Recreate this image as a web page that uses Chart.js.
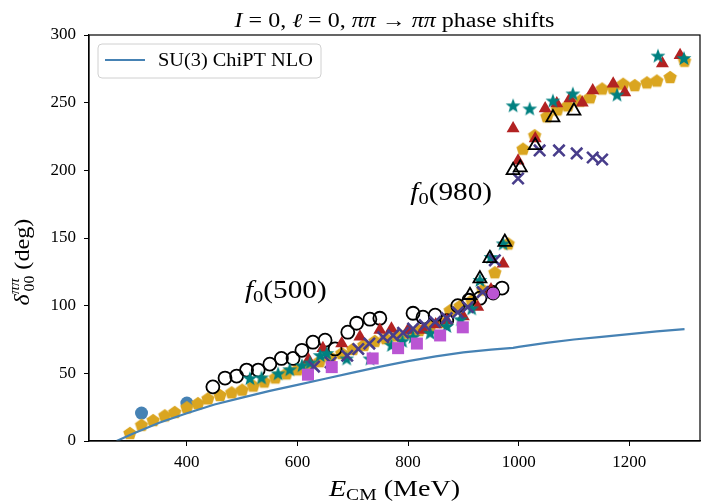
<!DOCTYPE html>
<html>
<head>
<meta charset="utf-8">
<script src="https://cdn.jsdelivr.net/npm/chart.js@4.4.1/dist/chart.umd.min.js"></script>
<style>
  html, body { margin: 0; padding: 0; background: #fff; }
  canvas { display: block; }
</style>
</head>
<body>
<canvas id="chart" width="711" height="502"></canvas>
<script>
const SERIF = '"Liberation Serif", "DejaVu Serif", serif'

const X_MIN = 223
const X_MAX = 1328
const xTickValues = [400, 600, 800, 1000, 1200]
const yTickValues = [0, 50, 100, 150, 200, 250, 300]

// SU(3) ChiPT NLO curve
const nloE = [273, 300, 350, 400, 450, 500, 550, 600, 650, 700, 750, 800, 850, 900, 950, 990, 1000, 1050, 1100, 1150, 1200, 1250, 1300]
const nloDelta = [0, 5, 13.5, 20.5, 27, 32, 37, 41.5, 46, 50.5, 55, 59, 62.5, 65.5, 67.5, 68.8, 69.5, 72.5, 75, 77, 79, 81, 82.6]

// data sets
const blueE = [318, 400]
const blueDelta = [20.6, 28]

const goldE = [297, 318, 339, 360, 378, 400, 420, 438, 460, 481, 500, 520, 540, 560, 580, 600, 620, 640, 660, 680, 700, 720, 740, 760, 780, 800, 820, 840, 860, 876, 894, 915, 935, 957, 981,
  1008, 1029, 1051, 1070, 1089, 1111, 1129, 1151, 1171, 1189, 1210, 1232, 1250, 1274, 1300]
const goldDelta = [6, 12, 15.5, 19, 21.5, 25, 28, 31.5, 34, 36, 38, 41, 44, 47, 50, 53, 56, 59, 62, 65, 68, 71, 74, 76, 78, 80, 82, 85, 88, 96.7, 100, 104, 112, 124.7, 146,
  216, 226, 240, 245, 248, 251.6, 254, 260.5, 261, 264, 263, 265, 266.4, 269, 281]

const openCircE = [447, 469, 490, 508, 529, 550, 571, 592, 608, 628, 650, 668, 691, 707, 731, 749, 809, 827, 849, 870, 890, 910, 930, 952, 970]
const openCircDelta = [40, 46.5, 48, 52.4, 52.4, 56.8, 61, 61, 67, 73, 74.5, 68, 80.4, 87, 90, 90.7, 94.4, 91.5, 93, 89, 100, 104, 105.5, 110, 113]

const redE = [620, 646, 680, 713, 749, 770, 800, 827, 850, 870, 900, 926, 950, 972,
  990, 999, 1030, 1048, 1069, 1093, 1115, 1134, 1171, 1192, 1260, 1292]
const redDelta = [60, 68.6, 72, 77, 82, 83, 82, 82, 86, 89, 92, 99, 112, 131,
  231, 207, 223.6, 245.7, 249.4, 253, 250, 259, 264, 257.5, 279, 285]

const tealE = [514, 535, 565, 586, 608, 623, 641, 653, 689, 731, 770, 790, 809, 840, 870, 895, 915, 930, 950, 972,
  990, 1020, 1062, 1098, 1178, 1252, 1299]
const tealDelta = [46.5, 47, 50, 53, 56, 58, 63.5, 65, 61, 61, 71, 74, 77, 80, 85, 90, 98, 119, 136, 146,
  248, 245.7, 251.6, 256.8, 256, 284.8, 283]

const crossE = [630, 660, 690, 710, 730, 755, 773, 791, 809, 830, 849, 870, 890, 908, 935, 957,
  999, 1038, 1073, 1105, 1134, 1151]
const crossDelta = [55, 58, 63, 68, 72, 76.7, 78, 80, 83, 85.6, 88, 90.8, 95, 99, 110, 133.5,
  194, 214.7, 214.7, 212.5, 209.5, 208]

const squareE = [619, 662, 736, 782, 816, 858, 899]
const squareDelta = [49, 54.6, 61, 68.6, 72, 78, 84]

const openTriE = [912, 930, 948, 975, 990, 1003, 1030, 1062, 1100]
const openTriDelta = [107.7, 120, 135, 147, 200, 202, 218.4, 239, 244]

const orchidCircE = [954]
const orchidCircDelta = [109]

const pts = (xs, ys) => xs.map((x, i) => ({ x, y: ys[i] }))

function makeStar (color, r) {
  const c = document.createElement('canvas')
  const s = Math.ceil(r * 2 + 2)
  c.width = s; c.height = s
  const g = c.getContext('2d')
  g.fillStyle = color
  g.beginPath()
  for (let i = 0; i < 10; i++) {
    const rad = i % 2 === 0 ? r : r * 0.42
    const a = -Math.PI / 2 + i * Math.PI / 5
    const px = s / 2 + rad * Math.cos(a)
    const py = s / 2 + rad * Math.sin(a) + r * 0.1
    if (i === 0) g.moveTo(px, py); else g.lineTo(px, py)
  }
  g.closePath()
  g.fill()
  return c
}

function makePentagon (color, r) {
  const c = document.createElement('canvas')
  const s = Math.ceil(r * 2 + 2)
  c.width = s; c.height = s
  const g = c.getContext('2d')
  g.fillStyle = color
  g.beginPath()
  for (let i = 0; i < 5; i++) {
    const a = -Math.PI / 2 + i * 2 * Math.PI / 5
    const px = s / 2 + r * Math.cos(a)
    const py = s / 2 + r * Math.sin(a) + r * 0.1
    if (i === 0) g.moveTo(px, py); else g.lineTo(px, py)
  }
  g.closePath()
  g.fill()
  return c
}

// draw a list of text runs centred on x; each run may be italic, smaller, shifted.
// sx stretches the text sideways a bit, LaTeX fonts are wider than Liberation Serif
function drawRuns (ctx, runs, x, y, baseSize, sx = 1) {
  const fontOf = r => `${r.it ? 'italic ' : ''}${(r.scale || 1) * baseSize}px ${SERIF}`
  let total = 0
  runs.forEach(r => { ctx.font = fontOf(r); r.w = ctx.measureText(r.t).width * sx; total += r.w + (r.gap || 0) })
  let cx = x - total / 2
  ctx.textBaseline = 'alphabetic'
  ctx.textAlign = 'left'
  runs.forEach(r => {
    ctx.font = fontOf(r)
    ctx.save()
    ctx.translate(cx, y + (r.dy || 0))
    ctx.scale(sx, 1)
    ctx.fillText(r.t, 0, 0)
    ctx.restore()
    cx += r.w + (r.gap || 0)
  })
}

const decorations = {
  id: 'decorations',
  afterDatasetsDraw (chart) {
    const { ctx, chartArea: a } = chart
    ctx.save()
    ctx.strokeStyle = '#000'
    ctx.lineWidth = 1.2
    ctx.strokeRect(a.left, a.top, a.right - a.left, a.bottom - a.top)
    ctx.fillStyle = '#000'

    const cx = (a.left + a.right) / 2
    drawRuns(ctx, [
      { t: 'I', it: true }, { t: ' = 0, ' }, { t: 'ℓ', it: true }, { t: ' = 0, ' },
      { t: 'ππ', it: true }, { t: ' → ' }, { t: 'ππ', it: true }, { t: ' phase shifts' }
    ], cx, 27, 20, 1.2)

    drawRuns(ctx, [
      { t: 'E', it: true }, { t: 'CM', scale: 0.7, dy: 4 }, { t: ' (MeV)' }
    ], cx, 496, 24, 1.17)

    ctx.save()
    ctx.translate(29, 262)
    ctx.rotate(-Math.PI / 2)
    drawRuns(ctx, [
      { t: 'δ', it: true }, { t: 'ππ', it: true, scale: 0.65, dy: -10, gap: -13 }, { t: '00', scale: 0.65, dy: 5 }, { t: ' (deg)' }
    ], 0, 0, 22, 1.1)
    ctx.restore()

    const sx = chart.scales.x
    const sy = chart.scales.y
    drawRuns(ctx, [{ t: 'f', it: true }, { t: '0', scale: 0.7, dy: 4 }, { t: '(500)' }],
      sx.getPixelForValue(579), sy.getPixelForValue(106), 25, 1.17)
    drawRuns(ctx, [{ t: 'f', it: true }, { t: '0', scale: 0.7, dy: 4 }, { t: '(980)' }],
      sx.getPixelForValue(878), sy.getPixelForValue(178), 25, 1.17)

    // legend
    const lx = 98, ly = 44, lw = 223, lh = 34
    ctx.beginPath()
    ctx.roundRect(lx, ly, lw, lh, 4)
    ctx.fillStyle = 'rgba(255,255,255,0.85)'
    ctx.fill()
    ctx.strokeStyle = '#d0d0d0'
    ctx.lineWidth = 1
    ctx.stroke()
    ctx.beginPath()
    ctx.moveTo(105, 60)
    ctx.lineTo(145, 60)
    ctx.strokeStyle = '#4682B4'
    ctx.lineWidth = 2
    ctx.stroke()
    ctx.fillStyle = '#000'
    ctx.font = `18px ${SERIF}`
    ctx.textAlign = 'left'
    ctx.textBaseline = 'alphabetic'
    ctx.save()
    ctx.translate(158, 66)
    ctx.scale(1.13, 1)
    ctx.fillText('SU(3) ChiPT NLO', 0, 0)
    ctx.restore()
    ctx.restore()
  }
}

const star = makeStar('#008080', 7.8)
const pent = makePentagon('#DAA520', 7)

const scatter = (label, xs, ys, extra) => Object.assign({
  label, data: pts(xs, ys), borderWidth: 0, pointHoverRadius: 0
}, extra)

const datasets = [
  { label: 'SU(3) ChiPT NLO', type: 'scatter', showLine: true, data: pts(nloE, nloDelta), borderColor: '#4682B4', borderWidth: 2.2, pointRadius: 0, order: 0 },
  scatter('blue', blueE, blueDelta, { pointStyle: 'circle', pointRadius: 6.5, backgroundColor: '#4682B4', order: 9 }),
  scatter('gold', goldE, goldDelta, { pointStyle: pent, pointRadius: 7, backgroundColor: '#DAA520', order: 8 }),
  scatter('open circ', openCircE, openCircDelta, { pointStyle: 'circle', pointRadius: 6.5, backgroundColor: 'rgba(0,0,0,0)', borderColor: '#000', borderWidth: 1.8, order: 7 }),
  scatter('red', redE, redDelta, { pointStyle: 'triangle', pointRadius: 7.5, backgroundColor: '#B22222', order: 6 }),
  scatter('teal', tealE, tealDelta, { pointStyle: star, pointRadius: 7.5, backgroundColor: '#008080', order: 5 }),
  scatter('cross', crossE, crossDelta, { pointStyle: 'crossRot', pointRadius: 8, borderColor: '#483D8B', borderWidth: 2.6, order: 4 }),
  scatter('square', squareE, squareDelta, { pointStyle: 'rect', pointRadius: 8.5, backgroundColor: '#BA55D3', order: 3 }),
  scatter('open tri', openTriE, openTriDelta, { pointStyle: 'triangle', pointRadius: 7.5, backgroundColor: 'rgba(0,0,0,0)', borderColor: '#000', borderWidth: 1.8, order: 2 }),
  scatter('orchid circ', orchidCircE, orchidCircDelta, { pointStyle: 'circle', pointRadius: 6.5, backgroundColor: '#BA55D3', borderColor: '#000', borderWidth: 1, order: 1 })
]

const axisCommon = {
  type: 'linear',
  grid: { display: true, drawOnChartArea: false, drawTicks: true, tickLength: 5, color: '#000', tickColor: '#000', tickWidth: 1 },
  border: { display: true, color: '#000', width: 1.2 },
  ticks: { color: '#000', font: { family: SERIF, size: 17 }, autoSkip: false, maxRotation: 0 }
}

new Chart(document.getElementById('chart'), {
  type: 'scatter',
  data: { datasets },
  options: {
    responsive: false,
    devicePixelRatio: 1,
    animation: false,
    layout: { padding: { top: 35, right: 11, left: 0, bottom: 0 } },
    plugins: { legend: { display: false }, tooltip: { enabled: false }, title: { display: false } },
    scales: {
      x: {
        ...axisCommon,
        min: X_MIN,
        max: X_MAX,
        ticks: { ...axisCommon.ticks, padding: 6, callback: v => String(v) },
        afterBuildTicks: s => { s.ticks = xTickValues.map(v => ({ value: v })) },
        afterFit: s => { s.height = 61 }
      },
      y: {
        ...axisCommon,
        min: 0,
        max: 300,
        ticks: { ...axisCommon.ticks, padding: 8, callback: v => String(v) },
        afterBuildTicks: s => { s.ticks = yTickValues.map(v => ({ value: v })) },
        afterFit: s => { s.width = 89 }
      }
    }
  },
  plugins: [decorations]
})
</script>
</body>
</html>
